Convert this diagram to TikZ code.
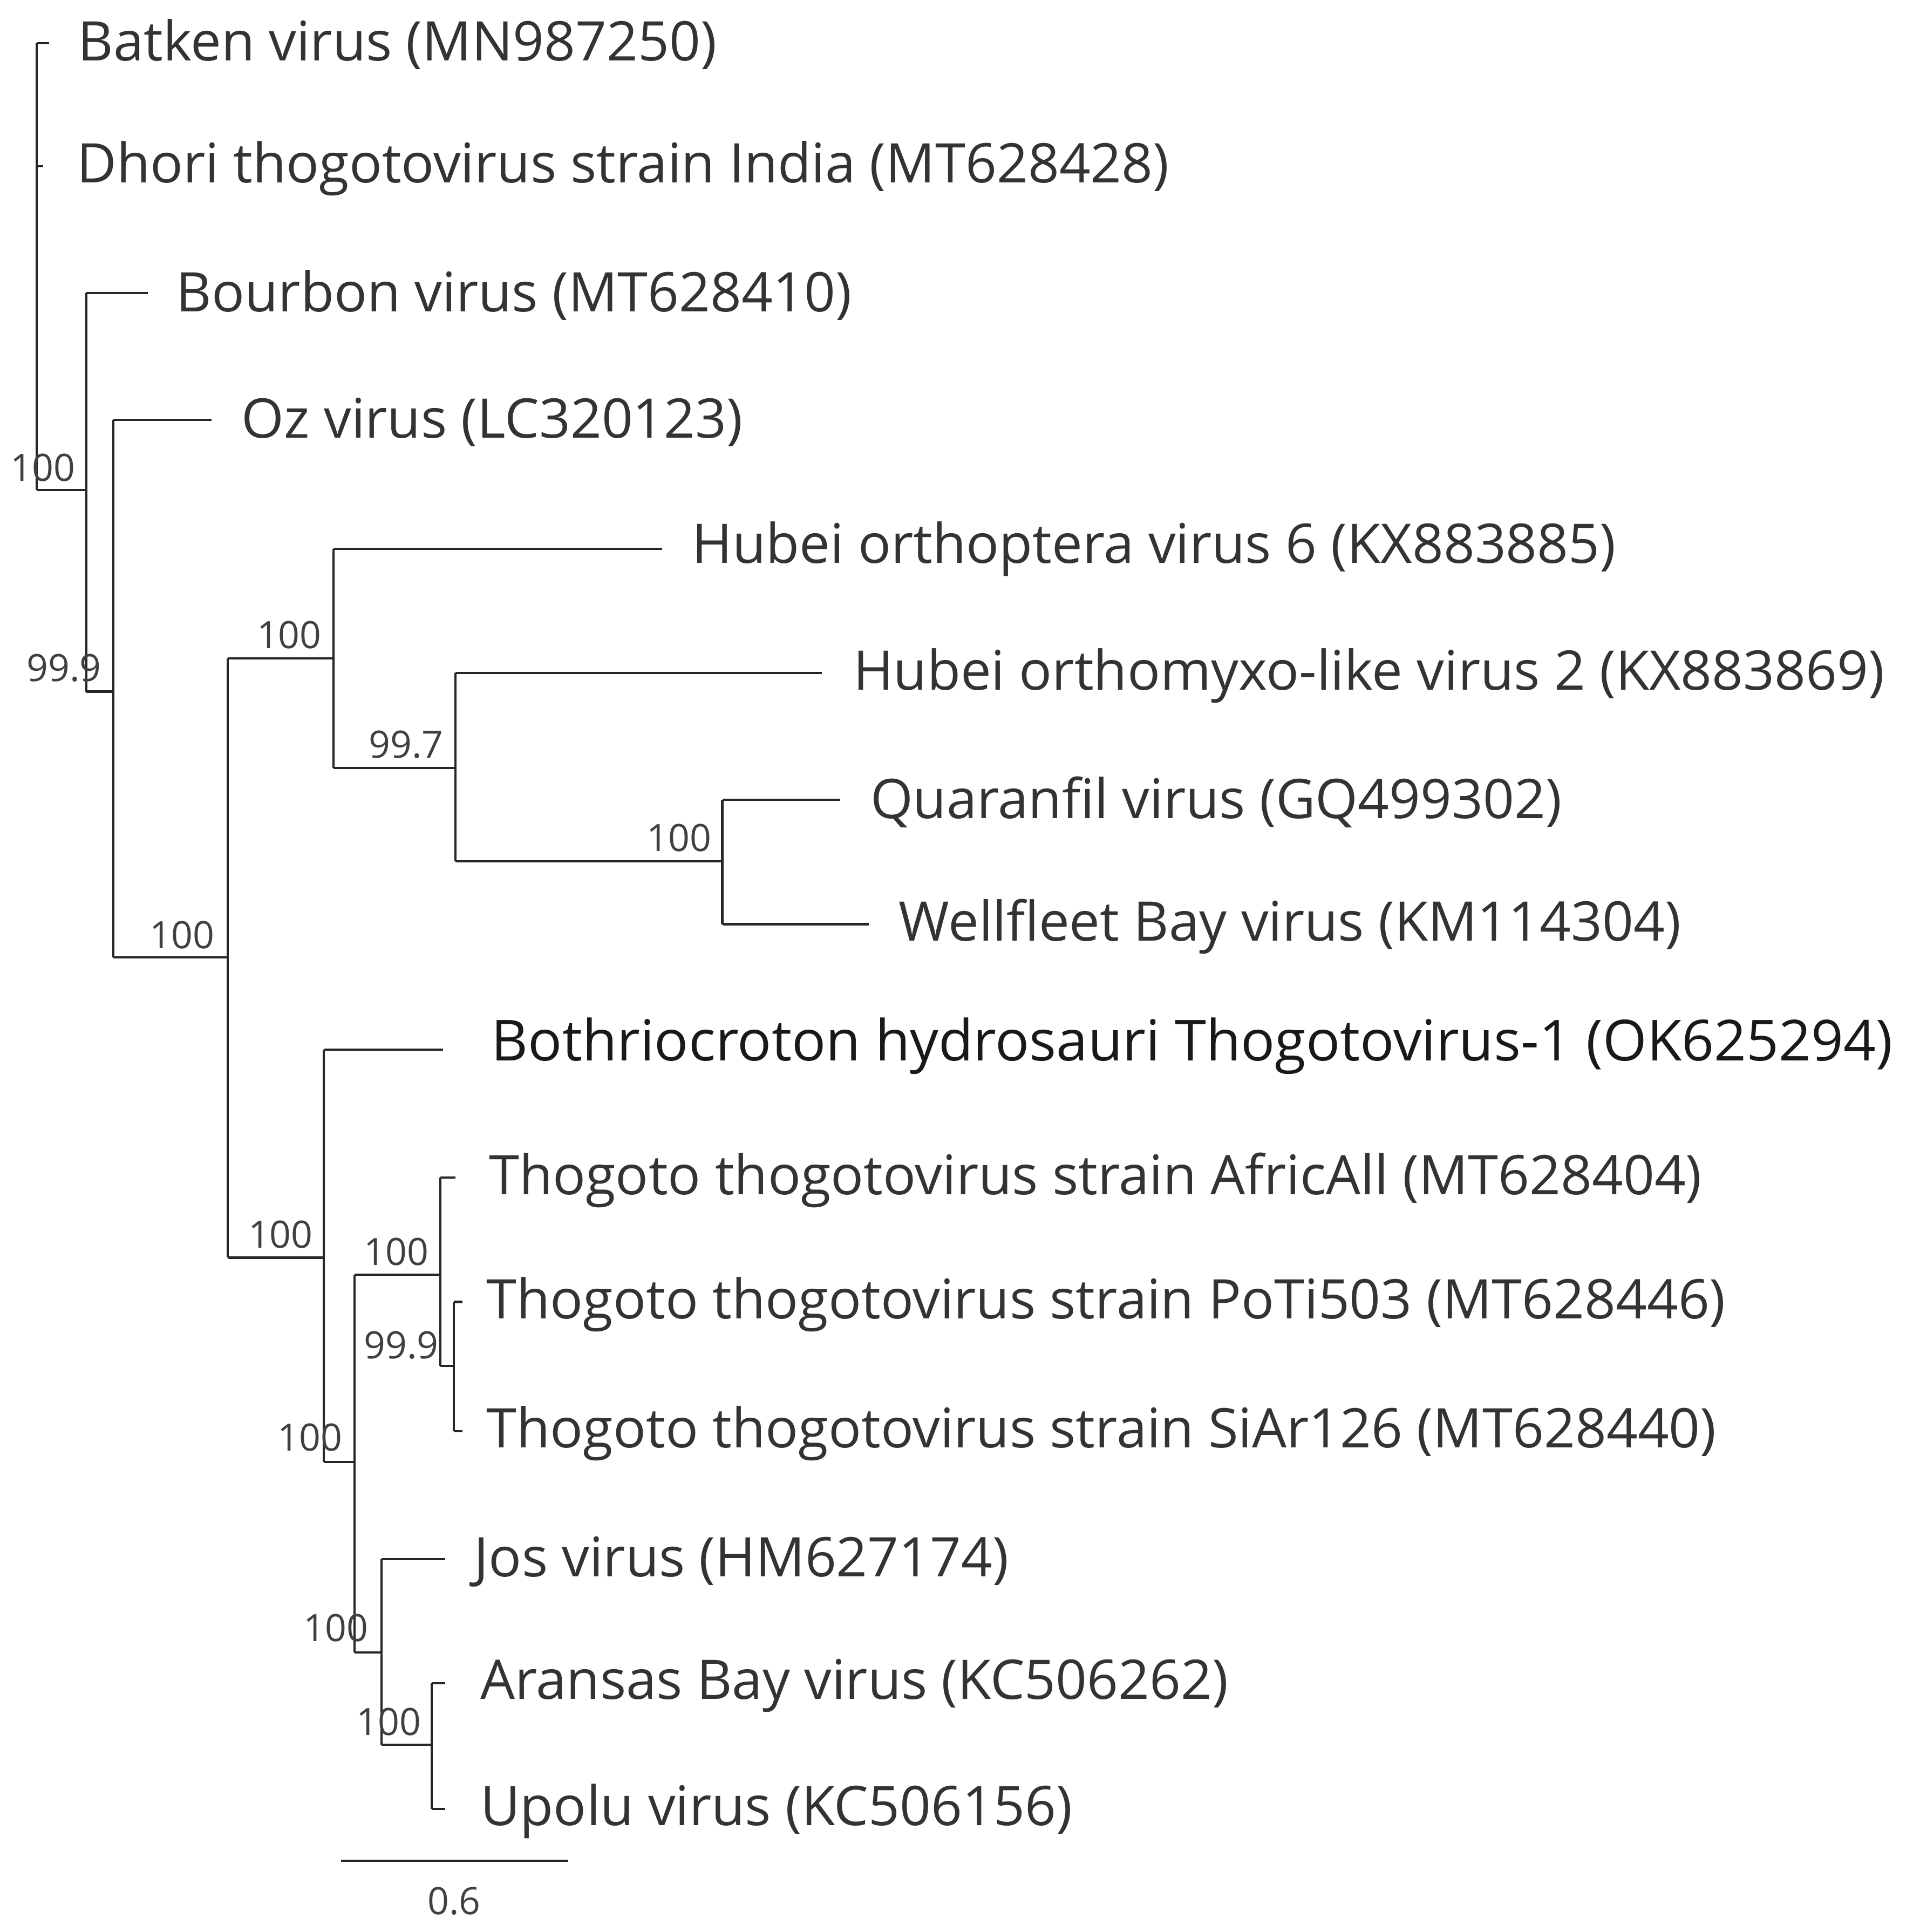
\documentclass[tikz,border=0pt]{standalone}
\usepackage{fontspec}
\setmainfont{Open Sans}
\begin{document}
\begin{tikzpicture}[x=0.5pt,y=-0.5pt,
  br/.style={draw=black!85,line width=0.9pt},
  tip/.style={anchor=west,inner sep=0pt,text=black!80,font=\fontsize{22.2}{26}\selectfont},
  bs/.style={inner sep=0pt,text=black!75,font=\fontsize{15.3}{17}\selectfont}]
\useasboundingbox (0,0) rectangle (1560,1570);
% tips
\node[tip] (t1) at (63,36) {Batken virus (MN987250)};
\node[tip] (t2) at (62,137) {Dhori thogotovirus strain India (MT628428)};
\node[tip] (t3) at (143,240) {Bourbon virus (MT628410)};
\node[tip] (t4) at (196,343) {Oz virus (LC320123)};
\node[tip] (t5) at (562,446) {Hubei orthoptera virus 6 (KX883885)};
\node[tip] (t6) at (693,549) {Hubei orthomyxo-like virus 2 (KX883869)};
\node[tip] (t7) at (707,652) {Quaranfil virus (GQ499302)};
\node[tip] (t8) at (730,753) {Wellfleet Bay virus (KM114304)};
\node[tip,font=\fontsize{23}{27}\selectfont,text=black!90] (t9) at (399,850) {Bothriocroton hydrosauri Thogotovirus-1 (OK625294)};
\node[tip] (t10) at (397,959) {Thogoto thogotovirus strain AfricAll (MT628404)};
\node[tip] (t11) at (395,1060) {Thogoto thogotovirus strain PoTi503 (MT628446)};
\node[tip] (t12) at (395,1165) {Thogoto thogotovirus strain SiAr126 (MT628440)};
\node[tip] (t13) at (385,1269) {Jos virus (HM627174)};
\node[tip] (t14) at (390,1370) {Aransas Bay virus (KC506262)};
\node[tip] (t15) at (390,1472) {Upolu virus (KC506156)};
% internal nodes
\coordinate (r1) at (30,35); \coordinate (r2) at (30,398);
\draw[br] (r1) -- (r2);
\draw[br] (r1) -- ++(10,0);
\draw[br] (30,135) -- ++(5,0);
\draw[br] (r2) -- (70,398);
\coordinate (a1) at (70,238); \coordinate (a2) at (70,562);
\draw[br] (a1) -- (a2); \draw[br] (a1) -- (120,238); \draw[br] (a2) -- (92,562);
\coordinate (b1) at (92,341); \coordinate (b2) at (92,778);
\draw[br] (b1) -- (b2); \draw[br] (b1) -- (172,341); \draw[br] (b2) -- (185,778);
\coordinate (c1) at (185,535); \coordinate (c2) at (185,1022);
\draw[br] (c1) -- (c2); \draw[br] (c1) -- (271,535); \draw[br] (c2) -- (263,1022);
\coordinate (d1) at (271,446); \coordinate (d2) at (271,624);
\draw[br] (d1) -- (d2); \draw[br] (d1) -- (538,446); \draw[br] (d2) -- (370,624);
\coordinate (e1) at (370,547); \coordinate (e2) at (370,700);
\draw[br] (e1) -- (e2); \draw[br] (e1) -- (668,547); \draw[br] (e2) -- (587,700);
\coordinate (f1) at (587,650); \coordinate (f2) at (587,751);
\draw[br] (f1) -- (f2); \draw[br] (f1) -- (683,650); \draw[br] (f2) -- (706,751);
\coordinate (g1) at (263,853); \coordinate (g2) at (263,1188);
\draw[br] (g1) -- (g2); \draw[br] (g1) -- (360,853); \draw[br] (g2) -- (288,1188);
\coordinate (h1) at (288,1036); \coordinate (h2) at (288,1343);
\draw[br] (h1) -- (h2); \draw[br] (h1) -- (358,1036); \draw[br] (h2) -- (310,1343);
\coordinate (i1) at (358,957); \coordinate (i2) at (358,1110);
\draw[br] (i1) -- (i2); \draw[br] (i1) -- (370,957); \draw[br] (i2) -- (369,1110);
\coordinate (j1) at (369,1058); \coordinate (j2) at (369,1163);
\draw[br] (j1) -- (j2); \draw[br] (j1) -- (376,1058); \draw[br] (j2) -- (376,1163);
\coordinate (k1) at (310,1267); \coordinate (k2) at (310,1418);
\draw[br] (k1) -- (k2); \draw[br] (k1) -- (362,1267); \draw[br] (k2) -- (351,1418);
\coordinate (l1) at (351,1368); \coordinate (l2) at (351,1470);
\draw[br] (l1) -- (l2); \draw[br] (l1) -- (362,1368); \draw[br] (l2) -- (362,1470);
% bootstrap labels
\node[bs] (s1) at (35,380) {100};
\node[bs] (s2) at (52,543) {99.9};
\node[bs] (s3) at (148,760) {100};
\node[bs] (s4) at (235,516) {100};
\node[bs] (s5) at (330,605) {99.7};
\node[bs] (s6) at (552,681) {100};
\node[bs] (s7) at (228,1003) {100};
\node[bs] (s8) at (322,1017) {100};
\node[bs] (s9) at (326,1093) {99.9};
\node[bs] (s10) at (252,1168) {100};
\node[bs] (s11) at (273,1323) {100};
\node[bs] (s12) at (316,1399) {100};
% scale bar
\coordinate (sb1) at (277,1512); \coordinate (sb2) at (462,1512);
\draw[br] (sb1) -- (sb2);
\node[bs] (sbl) at (369,1545) {0.6};
\end{tikzpicture}
\end{document}
